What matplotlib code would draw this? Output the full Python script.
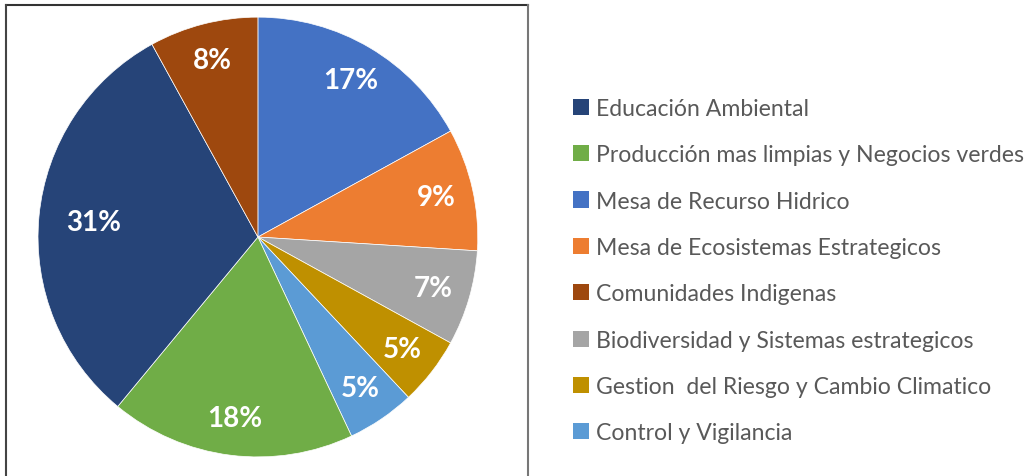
import matplotlib.pyplot as plt
from matplotlib.patches import Patch
from matplotlib.lines import Line2D
import numpy as np

# slices in drawing order (clockwise from 12 o'clock)
categories = ['Mesa de Recurso Hidrico', 'Mesa de Ecosistemas Estrategicos',
              'Biodiversidad y Sistemas estrategicos', 'Gestion  del Riesgo y Cambio Climatico',
              'Control y Vigilancia', 'Producción mas limpias y Negocios verdes',
              'Educación Ambiental', 'Comunidades Indigenas']
values = [17, 9, 7, 5, 5, 18, 31, 8]
colors = ['#4472C4', '#ED7D31', '#A5A5A5', '#BF9000', '#5B9BD5', '#70AD47', '#264478', '#9E480E']
legend_order = [6, 5, 0, 1, 7, 2, 3, 4]

plt.rcParams['font.family'] = ['Lato', 'DejaVu Sans']

fig = plt.figure(figsize=(10.3, 4.77), dpi=100)
ax = fig.add_axes([0.0369, 0.040, 0.427, 0.922])

wedges, texts, autotexts = ax.pie(values, colors=colors, startangle=90, counterclock=False,
                                  autopct='%d%%', pctdistance=0.83,
                                  wedgeprops=dict(edgecolor='white', linewidth=0.5),
                                  textprops=dict(color='white', fontsize=20, fontweight='bold'))
# the big slice has its label pulled in a little
w = wedges[6]
mid = np.deg2rad((w.theta1 + w.theta2) / 2)
autotexts[6].set_position((0.75 * np.cos(mid), 0.75 * np.sin(mid)))
ax.set_xlim(-1, 1)
ax.set_ylim(-1, 1)
ax.set_aspect('equal')

handles = [Patch(facecolor=colors[i], edgecolor='none') for i in legend_order]
labels = [categories[i] for i in legend_order]
leg = fig.legend(handles, labels, loc='upper left', bbox_to_anchor=(0.547, 0.812),
                 frameon=False, fontsize=16.6, labelcolor='#595959',
                 handlelength=0.7, handleheight=0.7, handletextpad=0.3,
                 labelspacing=1.1, borderaxespad=0)

# border around the pie area
x0, x1, y0 = 6 / 1030, 528 / 1030, 1 - 6 / 477
fig.add_artist(Line2D([x0, x1], [y0, y0], color='#333333', lw=1.5))
fig.add_artist(Line2D([x0, x0], [0, y0], color='#444444', lw=1.5))
fig.add_artist(Line2D([x1, x1], [0, y0], color='#777777', lw=1.5))

plt.savefig('out.png', dpi=100)
